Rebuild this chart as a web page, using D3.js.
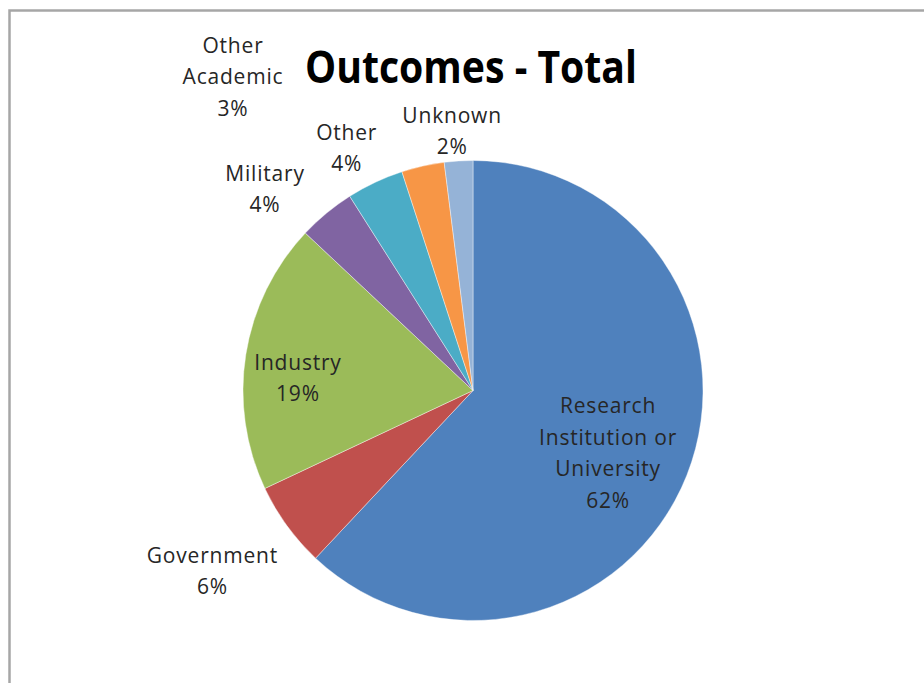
<!DOCTYPE html>
<html>
<head>
<meta charset="utf-8">
<script src="https://cdn.jsdelivr.net/npm/d3@7"></script>
<style>
  html, body { margin: 0; padding: 0; background: #fff; }
  svg { display: block; }
</style>
</head>
<body>
<svg id="chart" width="924" height="683"></svg>
<script>
// Outcome categories, in drawing order (clockwise from 12 o'clock)
const categories = ["Research Institution or University", "Government", "Industry",
                    "Military", "Other", "Other Academic", "Unknown"];
// Share of outcomes, percent
const values = [62, 6, 19, 4, 4, 3, 2];
// Label text lines for each slice
const labelLines = [
  ["Research", "Institution or", "University", "62%"],
  ["Government", "6%"],
  ["Industry", "19%"],
  ["Military", "4%"],
  ["Other", "4%"],
  ["Other", "Academic", "3%"],
  ["Unknown", "2%"]
];
const colors = ["#4F81BD", "#C0504D", "#9BBB59", "#8064A2", "#4BACC6", "#F79646", "#95B3D7"];

const svg = d3.select("#chart");

// chart frame
svg.append("rect")
  .attr("x", 9.5).attr("y", 10.5)
  .attr("width", 1000).attr("height", 1000)
  .attr("fill", "#fff")
  .attr("stroke", "#a6a6a6")
  .attr("stroke-width", 2.5);

// title
svg.append("text")
  .attr("x", 471).attr("y", 83)
  .attr("text-anchor", "middle")
  .attr("font-family", "'Open Sans', sans-serif")
  .attr("font-weight", 700)
  .attr("font-size", 44)
  .attr("textLength", 332)
  .attr("lengthAdjust", "spacingAndGlyphs")
  .attr("fill", "#000")
  .text("Outcomes - Total");

const cx = 473, cy = 390.5, r = 230;

const pie = d3.pie().sort(null).value(d => d)(values);
const arc = d3.arc().innerRadius(0).outerRadius(r);

const g = svg.append("g").attr("transform", `translate(${cx},${cy})`);

g.selectAll("path")
  .data(pie)
  .join("path")
  .attr("d", arc)
  .attr("fill", (d, i) => colors[i])
  .attr("stroke", "#fff")
  .attr("stroke-opacity", 0.5)
  .attr("stroke-width", 0.8);

// label placement per slice: distance as a fraction of the radius,
// and an angular nudge (degrees) from the slice's mid-angle
const labelRadius = [0.647, 1.378, 0.763, 1.259, 1.189, 1.718, 1.132];
const labelNudge = [3.2, 1.3, -4.9, -6.3, -2.3, -24.8, -1.0];
const lineH = 31.5;

pie.forEach((d, i) => {
  const mid = (d.startAngle + d.endAngle) / 2 + labelNudge[i] * Math.PI / 180;
  const rr = r * labelRadius[i];
  const x = cx + rr * Math.sin(mid);
  const y = cy - rr * Math.cos(mid);
  const lines = labelLines[i];
  const t = svg.append("text")
    .attr("text-anchor", "middle")
    .attr("font-family", "'Open Sans', sans-serif")
    .attr("font-size", 21)
    .attr("letter-spacing", 0.8)
    .attr("fill", "#262626");
  lines.forEach((s, k) => {
    t.append("tspan")
      .attr("x", x)
      .attr("y", y + (k - (lines.length - 1) / 2) * lineH + 7.5)
      .text(s);
  });
});
</script>
</body>
</html>
